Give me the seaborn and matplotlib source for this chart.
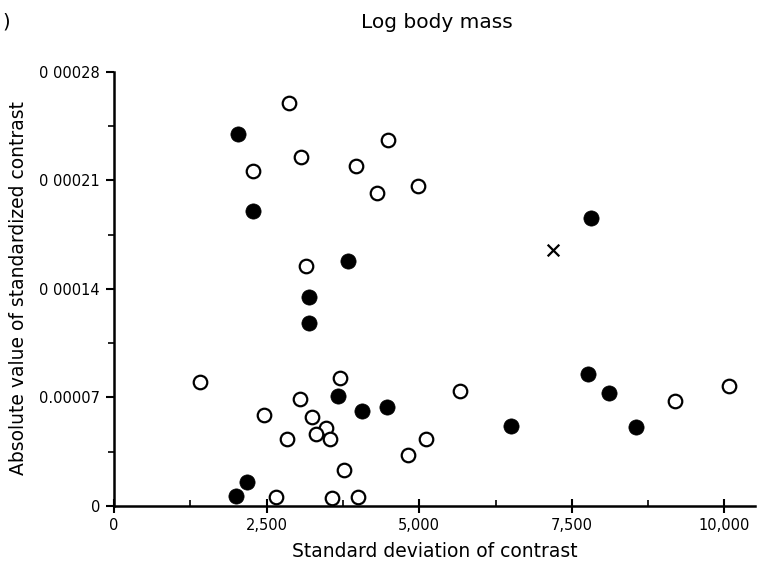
import matplotlib
matplotlib.use("Agg")
import matplotlib.pyplot as plt
import seaborn as sns
import pandas as pd
from matplotlib.ticker import FixedLocator, MultipleLocator

# Filled circles
filled_x = [2030, 2271, 3826, 7809, 3198, 3198, 3673, 4055, 4464, 2172, 1997, 6511, 7766, 8110, 8546]
filled_y = [0.000240, 0.000190, 0.000158, 0.000186, 0.000135, 0.000118, 0.0000709, 0.0000612,
            0.0000640, 0.0000153, 0.0000064, 0.0000518, 0.0000849, 0.0000726, 0.0000511]

# Open circles
open_x = [2870, 2271, 3062, 3962, 3143, 4300, 4491, 4972, 1408, 3700, 3045, 2456, 3247, 3465,
          3317, 3536, 2838, 3771, 2647, 3574, 4000, 5665, 5103, 4813, 9185, 10074]
open_y = [0.000260, 0.000216, 0.000225, 0.000219, 0.000155, 0.000202, 0.000236, 0.000206,
          0.0000797, 0.0000827, 0.0000688, 0.0000587, 0.0000576, 0.0000505, 0.0000464,
          0.0000434, 0.0000434, 0.0000232, 0.0000060, 0.0000052, 0.0000060, 0.0000741,
          0.0000430, 0.0000331, 0.0000677, 0.0000774]

# Cross
cross_x = [7193]
cross_y = [0.000165]

x_ticks = [0, 2500, 5000, 7500, 10000]
x_tick_labels = ["0", "2,500", "5,000", "7,500", "10,000"]
y_ticks = [0, 0.00007, 0.00014, 0.00021, 0.00028]
y_tick_labels = ["0", "0.00007", "0 00014", "0 00021", "0 00028"]

title = "Log body mass"
xlabel = "Standard deviation of contrast"
ylabel = "Absolute value of standardized contrast"

sns.set_theme(style="ticks")
plt.rcParams['font.family'] = ['DejaVu Sans']
plt.rcParams['text.color'] = 'black'
plt.rcParams['axes.labelcolor'] = 'black'
plt.rcParams['xtick.color'] = 'black'
plt.rcParams['ytick.color'] = 'black'
plt.rcParams['axes.edgecolor'] = 'black'

fig = plt.figure(figsize=(7.59, 5.70), dpi=100)
ax = fig.add_axes([114/759, 1 - 506/570, (755-114)/759, (506-70)/570])

df_f = pd.DataFrame({"x": filled_x, "y": filled_y})
df_o = pd.DataFrame({"x": open_x, "y": open_y})
df_c = pd.DataFrame({"x": cross_x, "y": cross_y})

sns.scatterplot(data=df_f, x="x", y="y", ax=ax, marker="o", s=120, color="black",
                edgecolor="black", linewidth=0.5, zorder=3)
sns.scatterplot(data=df_o, x="x", y="y", ax=ax, marker="o", s=95, facecolor="white",
                edgecolor="black", linewidth=1.6, zorder=3)
sns.scatterplot(data=df_c, x="x", y="y", ax=ax, marker="x", s=70, color="black",
                linewidth=1.6, zorder=3)

ax.set_xlim(0, 10500)
ax.set_ylim(0, 0.00028 * (506 - 70) / (506 - 71.7))
ax.spines['top'].set_visible(False)
ax.spines['right'].set_visible(False)
ax.spines['left'].set_bounds(0, 0.00028)
ax.spines['left'].set_linewidth(1.8)
ax.spines['bottom'].set_linewidth(1.8)

ax.xaxis.set_major_locator(FixedLocator(x_ticks))
ax.set_xticklabels(x_tick_labels)
ax.yaxis.set_major_locator(FixedLocator(y_ticks))
ax.set_yticklabels(y_tick_labels)
ax.xaxis.set_minor_locator(MultipleLocator(1250))
ax.yaxis.set_minor_locator(MultipleLocator(0.000035))

ax.tick_params(axis='x', which='major', direction='inout', length=10, width=1.5,
               labelsize=10.5, pad=4, colors='black')
ax.tick_params(axis='x', which='minor', direction='in', length=4, width=1.2)
ax.tick_params(axis='y', which='major', direction='out', length=6, width=1.5,
               labelsize=10.5, pad=4, colors='black')
ax.tick_params(axis='y', which='minor', direction='out', length=4, width=1.2)

ax.set_xlabel(xlabel, fontsize=13.5, labelpad=6, color='black')
ax.set_ylabel(ylabel, fontsize=13.5, labelpad=8, color='black')

fig.text(437/759, 1 - 22/570, title, fontsize=14.5, ha='center', va='center', color='black')
fig.text(2/759, 1 - 22/570, ")", fontsize=14, ha='left', va='center', color='black')

fig.savefig("out.png", dpi=100)
